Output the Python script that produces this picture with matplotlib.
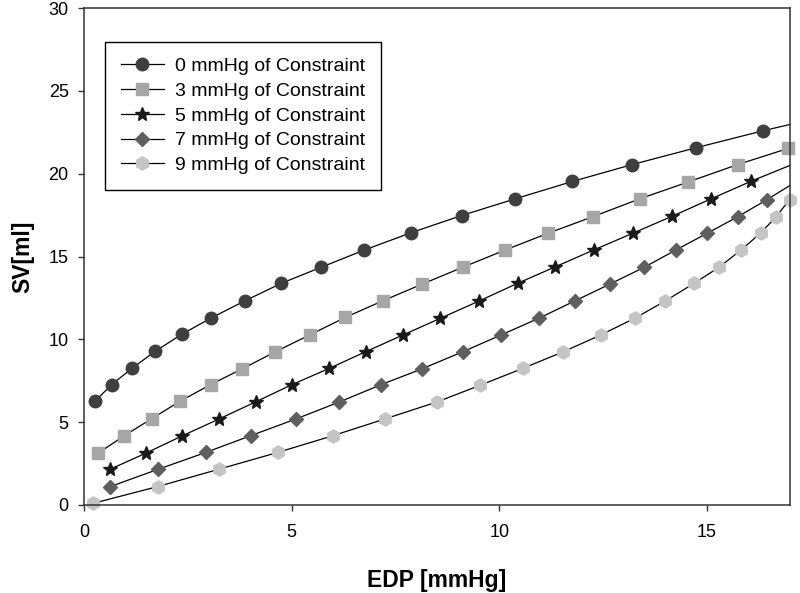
import matplotlib
matplotlib.use("Agg")
import matplotlib.pyplot as plt

plt.rcParams['font.family'] = ['Liberation Sans', 'DejaVu Sans']

# EDP [mmHg] / SV [ml] per constraint level (last point = where the curve meets the right edge)
edp_0 = [0.26, 0.67, 1.15, 1.71, 2.35, 3.07, 3.87, 4.75, 5.71, 6.75, 7.88, 9.09,
         10.38, 11.76, 13.2, 14.73, 16.35, 17.0]
sv_0 = [6.26, 7.27, 8.24, 9.27, 10.3, 11.3, 12.32, 13.38, 14.35, 15.39, 16.44, 17.47,
        18.48, 19.53, 20.55, 21.56, 22.59, 22.97]

edp_3 = [0.34, 0.97, 1.63, 2.31, 3.05, 3.81, 4.61, 5.43, 6.29, 7.19, 8.14, 9.12,
         10.14, 11.18, 12.26, 13.38, 14.55, 15.74, 16.95]
sv_3 = [3.13, 4.18, 5.21, 6.26, 7.27, 8.22, 9.25, 10.26, 11.32, 12.32, 13.33, 14.35,
        15.39, 16.41, 17.41, 18.48, 19.5, 20.55, 21.52]

edp_5 = [0.63, 1.49, 2.37, 3.25, 4.13, 5.01, 5.9, 6.78, 7.68, 8.58, 9.52, 10.44,
         11.35, 12.27, 13.22, 14.17, 15.1, 16.05, 17.0]
sv_5 = [2.16, 3.13, 4.18, 5.19, 6.22, 7.27, 8.24, 9.25, 10.26, 11.27, 12.32, 13.38,
        14.38, 15.39, 16.41, 17.44, 18.48, 19.53, 20.5]

edp_7 = [0.63, 1.79, 2.93, 4.01, 5.1, 6.15, 7.16, 8.14, 9.12, 10.04, 10.95, 11.82,
         12.66, 13.49, 14.25, 15.01, 15.75, 16.45, 17.0]
sv_7 = [1.11, 2.16, 3.17, 4.18, 5.19, 6.22, 7.27, 8.22, 9.25, 10.26, 11.27, 12.32,
        13.33, 14.35, 15.39, 16.41, 17.41, 18.44, 19.29]

edp_9 = [0.22, 1.77, 3.25, 4.66, 5.99, 7.24, 8.5, 9.54, 10.56, 11.54, 12.44, 13.26,
         14.0, 14.69, 15.29, 15.82, 16.29, 16.67, 16.99]
sv_9 = [0.1, 1.11, 2.16, 3.17, 4.18, 5.19, 6.22, 7.23, 8.24, 9.25, 10.26, 11.27,
        12.32, 13.38, 14.35, 15.39, 16.41, 17.41, 18.44]

labels = ["0 mmHg of Constraint", "3 mmHg of Constraint", "5 mmHg of Constraint",
          "7 mmHg of Constraint", "9 mmHg of Constraint"]

series = [
    (edp_0, sv_0, 'o', '#3f3f3f', 9, slice(0, -1)),
    (edp_3, sv_3, 's', '#a6a6a6', 8, None),
    (edp_5, sv_5, '*', '#1a1a1a', 10.5, slice(0, -1)),
    (edp_7, sv_7, 'D', '#5f5f5f', 7.5, slice(0, -1)),
    (edp_9, sv_9, 'h', '#c4c4c4', 9.5, None),
]

fig = plt.figure(figsize=(8, 5.93), dpi=100)
ax = fig.add_axes([0.105, 0.1484, 0.8825, 0.8381])

for (x, y, m, c, ms, every), lab in zip(series, labels):
    ax.plot(x, y, color='black', linewidth=0.9, marker=m, markersize=ms,
            markerfacecolor=c, markeredgecolor=c, markevery=every, label=lab,
            clip_on=False)

ax.set_xlim(0, 17)
ax.set_ylim(0, 30)
ax.set_xticks([0, 5, 10, 15])
ax.set_yticks([0, 5, 10, 15, 20, 25, 30])
ax.tick_params(direction='out', length=4.5, width=1, labelsize=13, color='#333333')
ax.tick_params(axis='x', pad=9)
ax.tick_params(axis='y', pad=6.5)
for s in ax.spines.values():
    s.set_linewidth(1.1)
    s.set_color('#333333')

ax.set_xlabel("EDP [mmHg]", fontsize=16.5, fontweight='bold', labelpad=20)
ax.set_ylabel("SV[ml]", fontsize=16.5, fontweight='bold', labelpad=10)

leg = ax.legend(loc='upper left', bbox_to_anchor=(0.03, 0.932), borderaxespad=0,
                fontsize=14, labelspacing=0.37, handlelength=2.2, handletextpad=0.6,
                borderpad=0.8, fancybox=False, edgecolor='black', framealpha=1)
leg.get_frame().set_linewidth(1.0)

fig.savefig("out.png", dpi=100)
